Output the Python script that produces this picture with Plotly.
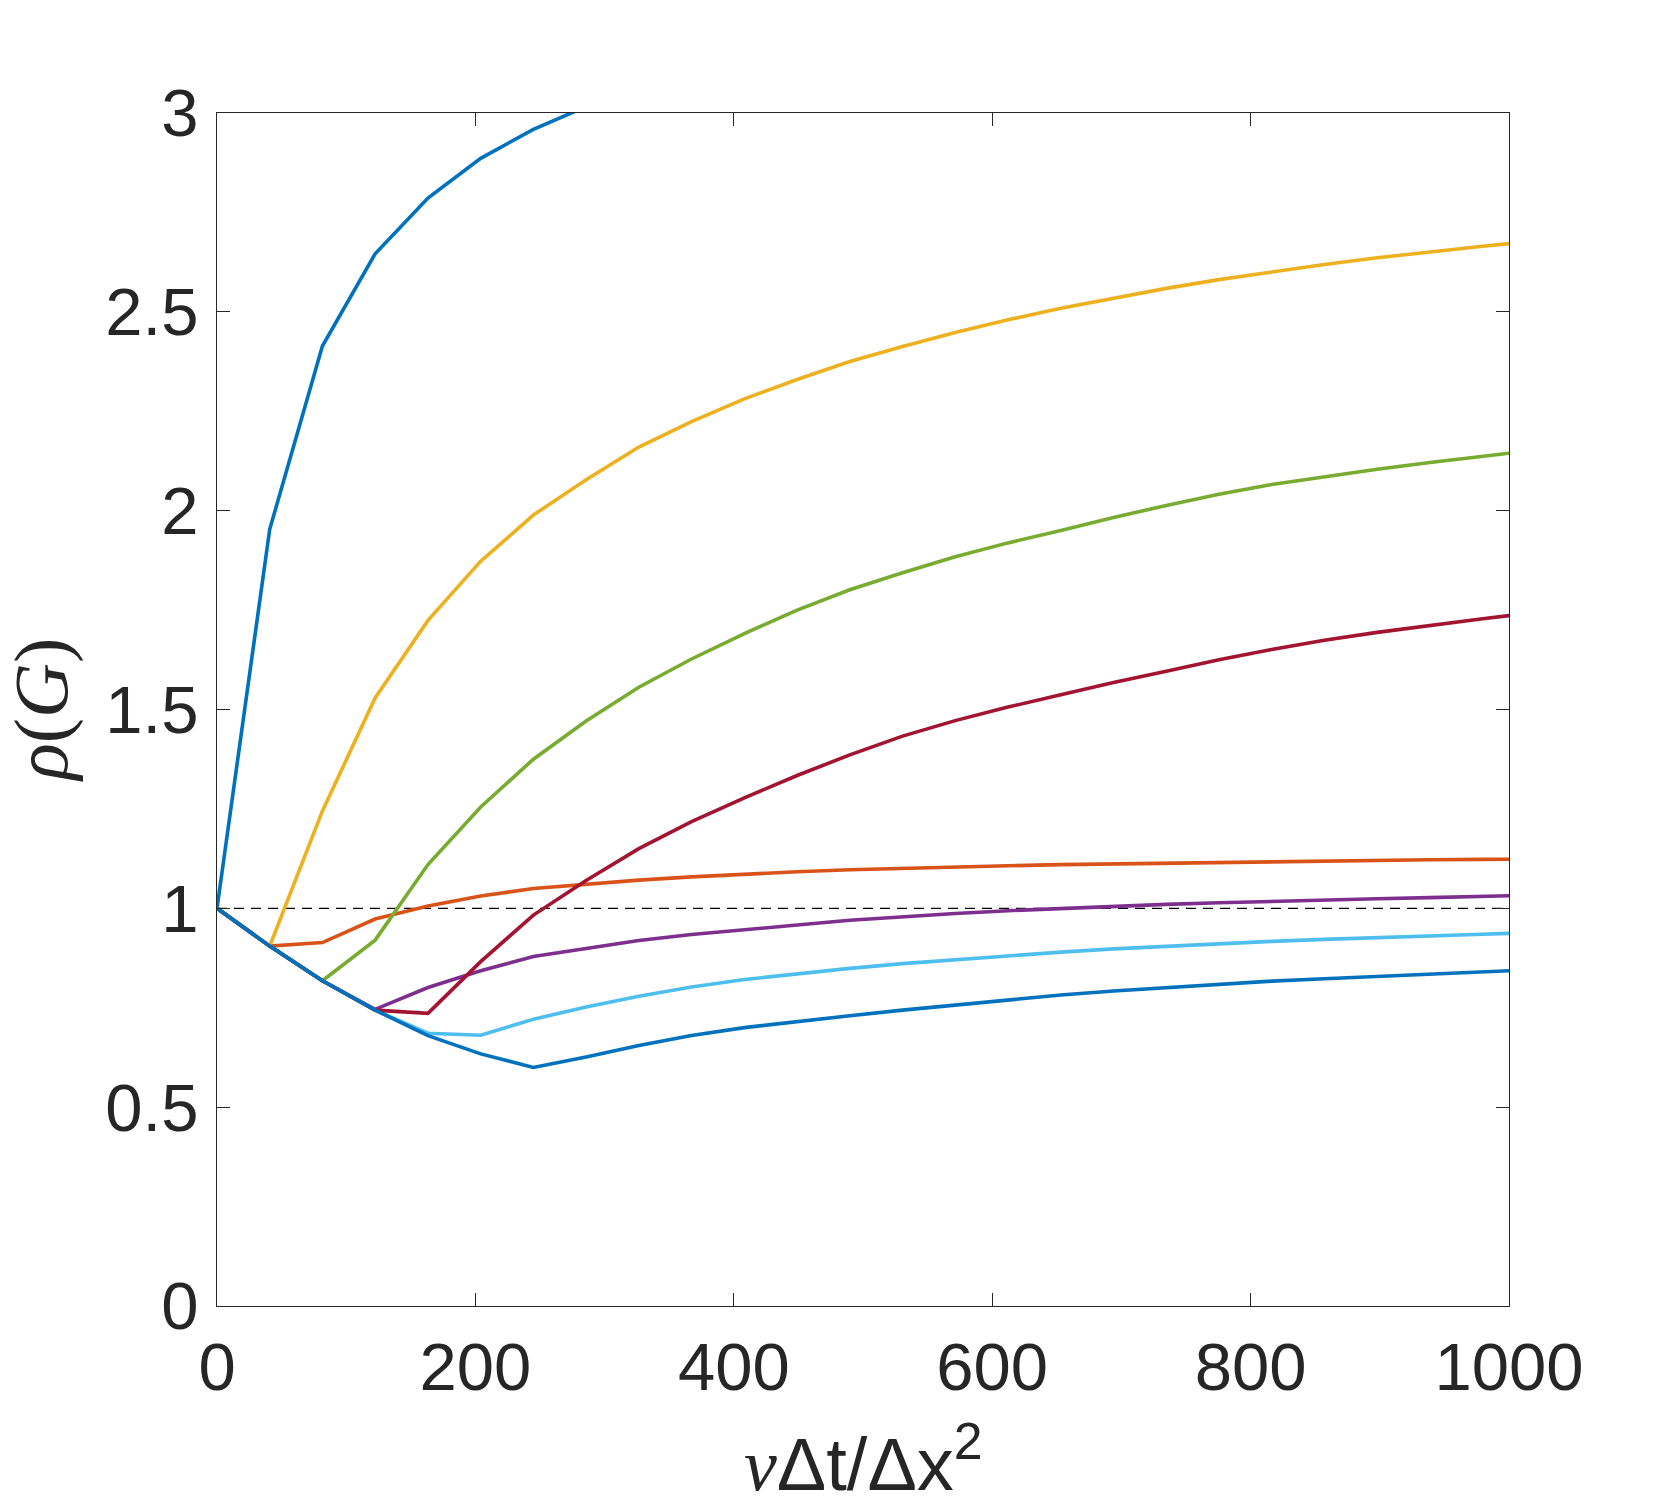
import plotly.graph_objects as go

# sample points of nu*dt/dx^2 (shared by every curve)
nu_dt_dx2 = [0, 40.8, 81.6, 122.4, 163.3, 204.1, 244.9, 285.7, 326.5, 367.3,
             408.2, 449.0, 489.8, 530.6, 571.4, 612.2, 653.1, 693.9, 734.7,
             775.5, 816.3, 857.1, 898.0, 938.8, 979.6, 1020.4]

# spectral radius rho(G) for each case
rho_blue_top = [1.0, 1.953, 2.414, 2.646, 2.786, 2.886, 2.959, 3.016]
rho_orange = [1.0, 0.905, 0.914, 0.973, 1.006, 1.031, 1.050, 1.061, 1.071, 1.079,
              1.086, 1.092, 1.097, 1.101, 1.104, 1.107, 1.110, 1.112, 1.114,
              1.116, 1.118, 1.119, 1.121, 1.122, 1.123, 1.124]
rho_yellow = [1.0, 0.905, 1.245, 1.529, 1.724, 1.873, 1.989, 2.078, 2.160, 2.224,
              2.281, 2.330, 2.375, 2.413, 2.448, 2.480, 2.509, 2.535, 2.559,
              2.581, 2.601, 2.619, 2.636, 2.651, 2.665, 2.678]
rho_purple = [1.0, 0.905, 0.818, 0.746, 0.801, 0.843, 0.879, 0.900, 0.919, 0.934,
              0.947, 0.958, 0.970, 0.979, 0.987, 0.994, 1.000, 1.005, 1.010,
              1.014, 1.018, 1.021, 1.024, 1.027, 1.030, 1.033]
rho_green = [1.0, 0.905, 0.818, 0.920, 1.110, 1.255, 1.375, 1.471, 1.556, 1.627,
             1.691, 1.750, 1.801, 1.844, 1.884, 1.919, 1.950, 1.983, 2.013,
             2.041, 2.066, 2.086, 2.104, 2.121, 2.137, 2.152]
rho_lightblue = [1.0, 0.905, 0.818, 0.744, 0.686, 0.681, 0.721, 0.752, 0.779, 0.802,
                 0.821, 0.836, 0.849, 0.861, 0.871, 0.881, 0.890, 0.898, 0.905,
                 0.911, 0.917, 0.922, 0.927, 0.931, 0.935, 0.939]
rho_darkred = [1.0, 0.905, 0.818, 0.744, 0.736, 0.866, 0.983, 1.070, 1.150, 1.218,
               1.278, 1.334, 1.386, 1.433, 1.472, 1.506, 1.537, 1.568, 1.596,
               1.625, 1.651, 1.674, 1.694, 1.712, 1.728, 1.744]
rho_blue_low = [1.0, 0.905, 0.818, 0.744, 0.680, 0.634, 0.600, 0.626, 0.655, 0.680,
                0.700, 0.716, 0.730, 0.744, 0.757, 0.770, 0.782, 0.792, 0.801,
                0.809, 0.817, 0.823, 0.829, 0.835, 0.841, 0.846]

x_ticks = [0, 200, 400, 600, 800, 1000]
y_ticks = [0, 0.5, 1, 1.5, 2, 2.5, 3]

# MATLAB default colour order
series = [
    (rho_blue_top, '#0072BD'),
    (rho_orange, '#D95319'),
    (rho_yellow, '#EDB120'),
    (rho_purple, '#7E2F8E'),
    (rho_green, '#77AC30'),
    (rho_lightblue, '#4DBEEE'),
    (rho_darkred, '#A2142F'),
    (rho_blue_low, '#0072BD'),
]

AX = '#262626'
SANS = 'Liberation Sans, Arial, Helvetica, sans-serif'
SERIF = 'Liberation Serif, Times New Roman, serif'

fig = go.Figure()

fig.add_hline(y=1, layer='below',
              line=dict(color='black', width=1.3, dash='10px,7px'))

for vals, col in series:
    fig.add_trace(go.Scatter(
        x=nu_dt_dx2[:len(vals)],
        y=vals,
        mode='lines',
        line=dict(color=col, width=3.6),
        showlegend=False,
        hoverinfo='skip'
    ))

axis_style = dict(
    showline=True, linecolor=AX, linewidth=1.4, mirror='ticks',
    ticks='inside', ticklen=13, tickwidth=1.4, tickcolor=AX,
    showgrid=False, zeroline=False,
    tickfont=dict(family=SANS, size=67, color=AX),
)

fig.update_xaxes(range=[0, 1000], tickvals=x_ticks, ticklabelstandoff=2, **axis_style)
fig.update_yaxes(range=[0, 3], tickvals=y_ticks, ticklabelstandoff=4, **axis_style)

fig.add_annotation(
    text='<span style="font-family:%s"><i>ν</i></span>Δt/Δx<sup>2</sup>' % SERIF.split(',')[0],
    xref='paper', yref='paper', x=0.5, y=-0.128,
    xanchor='center', yanchor='middle', showarrow=False,
    font=dict(family=SANS, size=74, color=AX)
)
fig.add_annotation(
    text='<i>ρ</i>(<i>G</i>)',
    xref='paper', yref='paper', x=-0.136, y=0.5,
    xanchor='center', yanchor='middle', showarrow=False, textangle=-90,
    font=dict(family=SERIF, size=76, color=AX)
)

fig.update_layout(
    width=1667, height=1512,
    margin=dict(l=217, r=158, t=113, b=206),
    plot_bgcolor='white', paper_bgcolor='white',
)

fig.write_html("out.html", config={'displayModeBar': False},
               post_script="document.body.style.margin='0';")
